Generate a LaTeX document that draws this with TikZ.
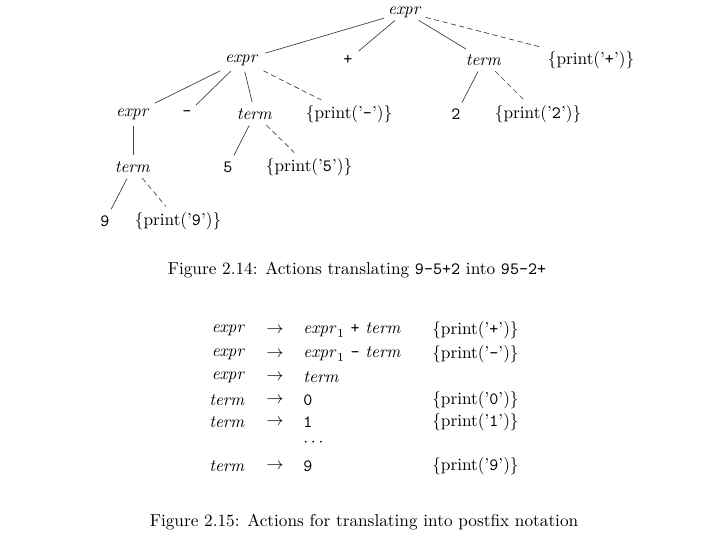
\documentclass[tikz,border=0pt]{standalone}
\usetikzlibrary{positioning}
\begin{document}
\begin{tikzpicture}[x=0.58pt,y=-0.58pt,
  lbl/.style={inner sep=2.5pt},
  ed/.style={line width=0.4pt,draw=black!75,shorten <=1pt,shorten >=1pt},
  act/.style={ed,dash pattern=on 3pt off 2pt},
  lhs/.style={anchor=east,inner sep=0pt},
  rhs/.style={anchor=west,inner sep=0pt},
  arr/.style={inner sep=0pt},
  capt/.style={inner sep=0pt}]
\useasboundingbox (0,0) rectangle (720,540);
% tree
\node[lbl,inner sep=1pt] (r) at (405,12) {$\mathit{expr}$};
\node[lbl] (e1) at (242,60) {$\mathit{expr}$};
\node[lbl] (p1) at (348,60) {\texttt{+}};
\node[lbl] (t1) at (484,60) {$\mathit{term}$};
\node[lbl] (a1) at (591,60) {\{print('\texttt{+}')\}};
\node[lbl] (e2) at (133,114) {$\mathit{expr}$};
\node[lbl] (m2) at (187,114) {\texttt{-}};
\node[lbl] (t2) at (255,114) {$\mathit{term}$};
\node[lbl] (a2) at (349,114) {\{print('\texttt{-}')\}};
\node[lbl] (n2) at (456,114) {\texttt{2}};
\node[lbl] (b2) at (538,114) {\{print('\texttt{2}')\}};
\node[lbl] (t3) at (133,167) {$\mathit{term}$};
\node[lbl] (n5) at (228,167) {\texttt{5}};
\node[lbl] (a5) at (309,167) {\{print('\texttt{5}')\}};
\node[lbl] (n9) at (105,221) {\texttt{9}};
\node[lbl] (a9) at (178,221) {\{print('\texttt{9}')\}};
\draw[ed] (r) -- (e1);
\draw[ed] (r) -- (p1);
\draw[ed] (r) -- (t1);
\draw[act] (r) -- (a1);
\draw[ed] (e1) -- (e2);
\draw[ed] (e1) -- (m2);
\draw[ed] (e1) -- (t2);
\draw[act] (e1) -- (a2);
\draw[ed] (t1) -- (n2);
\draw[act] (t1) -- (b2);
\draw[ed] (e2) -- (t3);
\draw[ed] (t2) -- (n5);
\draw[act] (t2) -- (a5);
\draw[ed] (t3) -- (n9);
\draw[act] (t3) -- (a9);
\node[capt] (c1) at (357,270) {Figure 2.14: Actions translating \texttt{9-5+2} into \texttt{95-2+}};
% table
\node[lhs] (l1) at (246,330) {$\mathit{expr}$};
\node[arr] (ar1) at (275,330) {$\rightarrow$};
\node[rhs] (r1) at (303,330) {$\mathit{expr}_1$ \texttt{+} $\mathit{term}$};
\node[rhs] (x1) at (432,330) {\{print('\texttt{+}')\}};
\node[lhs] (l2) at (246,354) {$\mathit{expr}$};
\node[arr] (ar2) at (275,354) {$\rightarrow$};
\node[rhs] (r2) at (303,354) {$\mathit{expr}_1$ \texttt{-} $\mathit{term}$};
\node[rhs] (x2) at (432,354) {\{print('\texttt{-}')\}};
\node[lhs] (l3) at (246,377) {$\mathit{expr}$};
\node[arr] (ar3) at (275,377) {$\rightarrow$};
\node[rhs] (r3) at (303,377) {$\mathit{term}$};
\node[lhs] (l4) at (246,400) {$\mathit{term}$};
\node[arr] (ar4) at (275,400) {$\rightarrow$};
\node[rhs] (r4) at (303,400) {\texttt{0}};
\node[rhs] (x4) at (432,400) {\{print('\texttt{0}')\}};
\node[lhs] (l5) at (246,422) {$\mathit{term}$};
\node[arr] (ar5) at (275,422) {$\rightarrow$};
\node[rhs] (r5) at (303,422) {\texttt{1}};
\node[rhs] (x5) at (432,422) {\{print('\texttt{1}')\}};
\node[rhs] (d6) at (303,443) {$\cdots$};
\node[lhs] (l7) at (246,466) {$\mathit{term}$};
\node[arr] (ar7) at (275,466) {$\rightarrow$};
\node[rhs] (r7) at (303,466) {\texttt{9}};
\node[rhs] (x7) at (432,466) {\{print('\texttt{9}')\}};
\node[capt] (c2) at (364,522) {Figure 2.15: Actions for translating into postfix notation};
\end{tikzpicture}
\end{document}
